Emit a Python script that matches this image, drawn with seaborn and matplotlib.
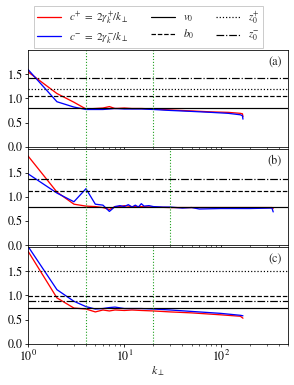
import numpy as np
import pandas as pd
import matplotlib
matplotlib.use("Agg")
import matplotlib.pyplot as plt
import seaborn as sns

# values
k_a = [1, 2, 3, 4, 5, 6, 7, 8, 10, 12, 15, 20, 30, 50, 80, 120, 160, 168, 170]
cp_a = [1.55, 1.1, 0.92, 0.78, 0.79, 0.8, 0.83, 0.79, 0.8, 0.79, 0.79, 0.78, 0.76, 0.74, 0.72, 0.71, 0.69, 0.68, 0.62]
cm_a = [1.6, 0.93, 0.82, 0.77, 0.77, 0.77, 0.78, 0.79, 0.78, 0.78, 0.78, 0.77, 0.75, 0.73, 0.71, 0.69, 0.66, 0.64, 0.57]

k_b_red = [1, 2, 3, 4, 5, 6, 7, 8, 9, 10, 12, 15, 20, 30, 50, 100, 200, 340, 350]
cp_b = [1.85, 1.1, 0.85, 0.81, 0.8, 0.78, 0.74, 0.8, 0.8, 0.82, 0.8, 0.8, 0.79, 0.78, 0.78, 0.78, 0.78, 0.78, 0.76]
k_b_blue = [1, 2, 3, 4, 5, 6, 7, 8, 9, 10, 11, 12, 13, 14, 15, 16, 18, 20, 25, 30, 40, 50, 60, 100, 200, 340, 350]
cm_b = [1.48, 1.08, 0.9, 1.17, 0.85, 0.83, 0.7, 0.8, 0.82, 0.8, 0.84, 0.79, 0.83, 0.79, 0.86, 0.81, 0.82, 0.8,
        0.79, 0.79, 0.77, 0.78, 0.75, 0.76, 0.76, 0.77, 0.69]

k_c = [1, 2, 3, 4, 5, 6, 7, 8, 10, 12, 15, 20, 30, 50, 100, 160, 170]
cp_c = [1.92, 0.95, 0.74, 0.72, 0.66, 0.7, 0.68, 0.7, 0.69, 0.7, 0.69, 0.68, 0.66, 0.64, 0.6, 0.57, 0.53]
cm_c = [2.02, 1.12, 0.88, 0.77, 0.72, 0.73, 0.75, 0.76, 0.73, 0.73, 0.73, 0.72, 0.7, 0.67, 0.63, 0.59, 0.58]

v0 = [0.8, 0.79, 0.75]
b0 = [1.05, 1.13, 0.98]
z0_plus = [1.2, np.nan, 1.5]
z0_minus = [1.42, 1.37, 0.89]
k_marks = [[4, 20], [4, 30], [4, 20]]
panel_labels = ["(a)", "(b)", "(c)"]

sns.set_style("ticks", {"axes.edgecolor": "black", "xtick.color": "black", "ytick.color": "black"})
plt.rcParams["font.family"] = ["STIXGeneral", "DejaVu Serif"]
plt.rcParams["mathtext.fontset"] = "stix"
plt.rcParams["font.size"] = 12

panels = [
    (k_a, cp_a, k_a, cm_a),
    (k_b_red, cp_b, k_b_blue, cm_b),
    (k_c, cp_c, k_c, cm_c),
]

fig, axes = plt.subplots(3, 1, figsize=(294 / 72, 385 / 72), dpi=72, sharex=True)
fig.subplots_adjust(left=0.095, right=0.98, top=0.87, bottom=0.107, hspace=0.02)

for i, ax in enumerate(axes):
    kr, cp, kb, cm = panels[i]
    df_p = pd.DataFrame({"k": kr, "c": cp})
    df_m = pd.DataFrame({"k": kb, "c": cm})
    sns.lineplot(data=df_p, x="k", y="c", ax=ax, color="red", lw=1.3, estimator=None, sort=False,
                 label=r"$c^{+}\ =\ 2\gamma_k^{+}/k_{\perp}$")
    sns.lineplot(data=df_m, x="k", y="c", ax=ax, color="blue", lw=1.3, estimator=None, sort=False,
                 label=r"$c^{-}\ =\ 2\gamma_k^{-}/k_{\perp}$")
    ax.axhline(v0[i], color="black", ls="-", lw=1.2, label=r"$v_0$")
    ax.axhline(b0[i], color="black", ls="--", lw=1.2, label=r"$b_0$")
    ax.axhline(z0_plus[i], color="black", ls=":", lw=1.2, label=r"$z_0^{+}$")
    ax.axhline(z0_minus[i], color="black", ls="-.", lw=1.2, label=r"$z_0^{-}$")
    for km in k_marks[i]:
        ax.axvline(km, color="#1fa01f", ls=":", lw=1.1)
    ax.set_xscale("log")
    ax.set_xlim(1, 500)
    ax.set_ylim(0, 2.0)
    ax.set_yticks([0, 0.5, 1.0, 1.5])
    ax.set_ylabel("")
    ax.set_xlabel("")
    ax.text(0.975, 0.93, panel_labels[i], transform=ax.transAxes, ha="right", va="top", fontsize=12)
    ax.tick_params(direction="out", length=3, pad=2, labelsize=12)
    ax.tick_params(which="minor", length=2)
    ax.get_legend().remove()

handles, labels = axes[0].get_legend_handles_labels()
fig.legend(handles, labels, loc="upper center", ncol=3, bbox_to_anchor=(0.505, 1.0),
           fontsize=11, handlelength=2.2, handletextpad=0.7, columnspacing=2.0, labelspacing=0.3,
           borderpad=0.3, fancybox=False, framealpha=1, edgecolor="0.8")
axes[-1].set_xlabel(r"$k_{\perp}$", fontsize=12, labelpad=1)

plt.savefig("out.png", dpi=72)
